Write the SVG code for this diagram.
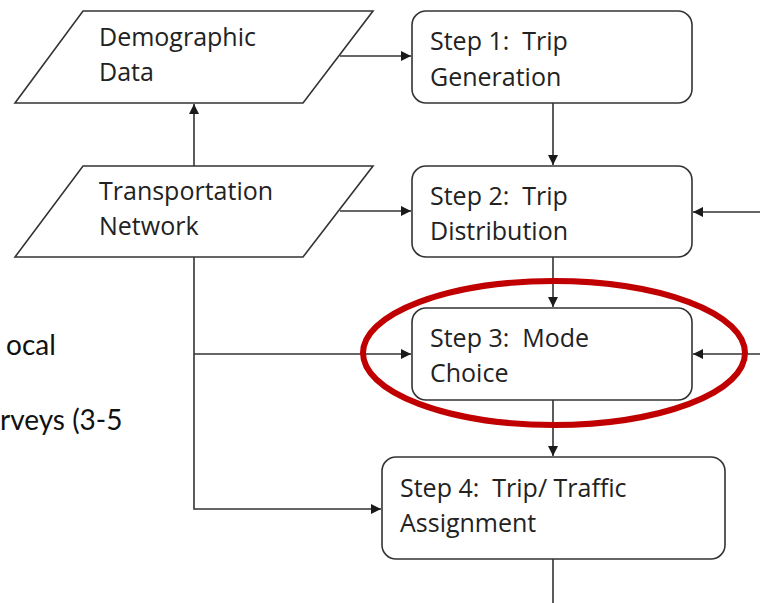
<svg xmlns="http://www.w3.org/2000/svg" width="760" height="603" viewBox="0 0 760 603">
<defs>
<marker id="ah" markerWidth="10" markerHeight="10" refX="10" refY="5" orient="auto" markerUnits="userSpaceOnUse">
<path d="M0,0 L10,5 L0,10 Z" fill="#1a1a1a"/>
</marker>
<style>
.shape{fill:#fff;stroke:#333;stroke-width:1.6}
.lbl{font-family:"Open Sans","Segoe UI","DejaVu Sans",sans-serif;font-size:25px;fill:#222}
.side{font-family:Lato,"Noto Sans",sans-serif;font-size:28px;fill:#111}
.con{fill:none;stroke:#333;stroke-width:1.6}
</style>
</defs>
<rect width="760" height="603" fill="#fff"/>
<text class="side" x="6" y="355">ocal</text>
<text class="side" x="0" y="430">rveys (3-5</text>
<g id="connectors">
<path class="con" d="M194,166 L194,104" marker-end="url(#ah)"/>
<path class="con" d="M340,56 L411,56" marker-end="url(#ah)"/>
<path class="con" d="M340,211 L411,211" marker-end="url(#ah)"/>
<path class="con" d="M553,103 L553,165" marker-end="url(#ah)"/>
<path class="con" d="M760,212 L693,212" marker-end="url(#ah)"/>
<path class="con" d="M553,257 L553,307" marker-end="url(#ah)"/>
<path class="con" d="M194,257 L194,509 L381,509" marker-end="url(#ah)"/>
<path class="con" d="M194,354 L411,354" marker-end="url(#ah)"/>
<path class="con" d="M760,354 L693,354" marker-end="url(#ah)"/>
<path class="con" d="M553,400 L553,456" marker-end="url(#ah)"/>
<path class="con" d="M553,559 L553,603"/>
</g>
<g id="demographic">
<polygon class="shape" points="83,11 373,11 303,103 15,103"/>
<text class="lbl" x="99" y="46">Demographic</text>
<text class="lbl" x="99" y="81">Data</text>
</g>
<g id="transportation">
<polygon class="shape" points="83,166 373,166 303,257 15,257"/>
<text class="lbl" x="99" y="200">Transportation</text>
<text class="lbl" x="99" y="235">Network</text>
</g>
<g id="step1">
<rect class="shape" x="412" y="11" width="280" height="92" rx="14"/>
<text class="lbl" x="430" y="50" xml:space="preserve">Step 1:  Trip</text>
<text class="lbl" x="430" y="86">Generation</text>
</g>
<g id="step2">
<rect class="shape" x="412" y="166" width="280" height="91" rx="14"/>
<text class="lbl" x="430" y="205" xml:space="preserve">Step 2:  Trip</text>
<text class="lbl" x="430" y="240">Distribution</text>
</g>
<g id="step3">
<rect class="shape" x="412" y="308" width="280" height="92" rx="14"/>
<text class="lbl" x="430" y="347" xml:space="preserve">Step 3:  Mode</text>
<text class="lbl" x="430" y="382">Choice</text>
</g>
<g id="step4">
<rect class="shape" x="382" y="457" width="343" height="102" rx="14"/>
<text class="lbl" x="400" y="497" xml:space="preserve">Step 4:  Trip/ Traffic</text>
<text class="lbl" x="400" y="532">Assignment</text>
</g>
<g id="highlight">
<ellipse cx="554" cy="353" rx="191" ry="72" fill="none" stroke="#c00000" stroke-width="6"/>
</g>
</svg>
